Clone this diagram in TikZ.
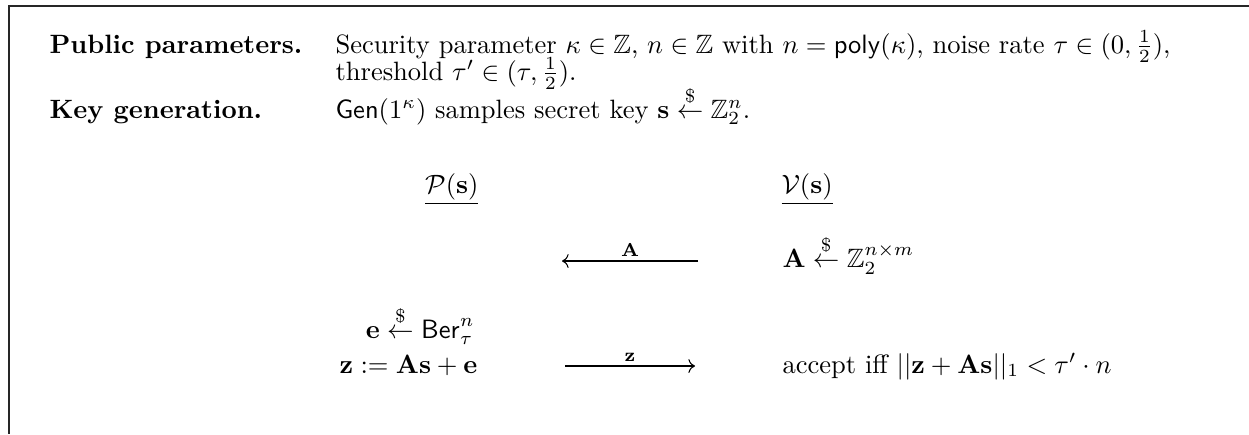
\documentclass[tikz,border=0pt]{standalone}
\usepackage{amsmath,amssymb}
\usetikzlibrary{arrows.meta}
\newcommand{\smp}{\mathrel{\overset{\$}{\leftarrow}}}
\tikzset{
  every picture/.style={line width=0.4pt},
  frame/.style={draw=black!85, line width=0.5pt},
  head/.style={anchor=base west, inner sep=0pt, font=\bfseries},
  plain/.style={anchor=base west, inner sep=0pt},
  prv/.style={anchor=base east, inner sep=0pt},
  vrf/.style={anchor=base west, inner sep=0pt},
  msg/.style={-{Computer Modern Rightarrow}, line width=0.4pt},
  mlabel/.style={above, font=\scriptsize, inner sep=1.5pt},
}
\begin{document}
\begin{tikzpicture}[x=0.377pt, y=-0.377pt]
  \useasboundingbox (0,0) rectangle (1249,434);
  % frame, open at the bottom and on the right
  \coordinate (ftop) at (1249,6);
  \coordinate (fcorner) at (9,6);
  \coordinate (fbot) at (9,434);
  \draw[frame] (ftop) -- (fcorner) -- (fbot);

  % setup
  \node[head] (hpub) at (49,53) {Public parameters.};
  \node[plain] (tpub) at (335,53) {Security parameter $\kappa\in\mathbb{Z}$, $n\in\mathbb{Z}$ with $n=\mathsf{poly}(\kappa)$, noise rate $\tau\in(0,\frac{1}{2})$,};
  \node[plain] (tpub2) at (335,80) {threshold $\tau'\in(\tau,\frac{1}{2})$.};
  \node[head] (hkey) at (49,118) {Key generation.};
  \node[plain] (tkey) at (335,118) {$\mathsf{Gen}(1^\kappa)$ samples secret key $\mathbf{s}\smp\mathbb{Z}_2^n$.};

  % the two parties
  \node[prv] (prover) at (479,193) {$\underline{\mathcal{P}(\mathbf{s})}$};
  \node[vrf] (verifier) at (781,193) {$\underline{\mathcal{V}(\mathbf{s})}$};

  % first round
  \node[vrf] (sampA) at (782,267) {$\mathbf{A}\smp\mathbb{Z}_2^{n\times m}$};
  \coordinate (aout) at (698,261);
  \coordinate (ain) at (562,261);
  \draw[msg] (aout) -- node[mlabel] (lblA) {$\mathbf{A}$} (ain);

  % second round
  \node[prv] (sampe) at (475,338) {$\mathbf{e}\smp\mathsf{Ber}_\tau^n$};
  \node[prv] (compz) at (478,373) {$\mathbf{z}:=\mathbf{A}\mathbf{s}+\mathbf{e}$};
  \node[vrf] (acc) at (782,373) {accept iff $||\mathbf{z}+\mathbf{A}\mathbf{s}||_1<\tau'\cdot n$};
  \coordinate (zout) at (565,366);
  \coordinate (zin) at (695,366);
  \draw[msg] (zout) -- node[mlabel] (lblz) {$\mathbf{z}$} (zin);
\end{tikzpicture}
\end{document}
